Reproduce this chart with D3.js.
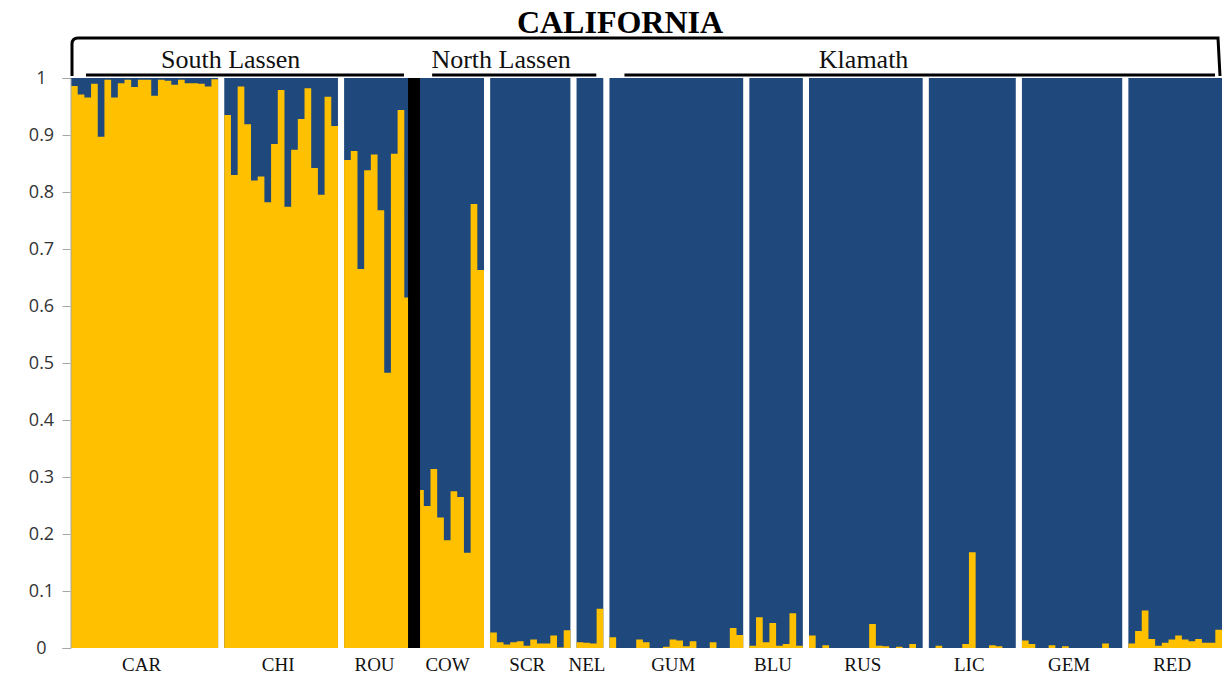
<!DOCTYPE html>
<html lang="en">
<head>
  <meta charset="UTF-8">
  <title>California - STRUCTURE plot</title>
  <script src="https://d3js.org/d3.v7.min.js"></script>
  <style>
    body { margin: 0; background: #fff; }
  </style>
</head>
<body>
  <svg width="1222" height="678"></svg>
  <script>
    // population names, in plot order
    const pops = ["CAR", "CHI", "ROU", "COW", "SCR", "NEL", "GUM", "BLU", "RUS", "LIC", "GEM", "RED"];

    // membership in the yellow cluster for each individual (blue = 1 - value)
    const CAR = [0.986, 0.971, 0.966, 0.99, 0.897, 0.997, 0.966, 0.991, 0.997, 0.984, 0.997,
                 0.997, 0.969, 0.997, 0.995, 0.988, 0.997, 0.991, 0.991, 0.99, 0.985, 0.998];
    const CHI = [0.935, 0.83, 0.985, 0.919, 0.82, 0.827, 0.782, 0.884, 0.979, 0.774, 0.874,
                 0.928, 0.982, 0.842, 0.795, 0.967, 0.916];
    const ROU = [0.856, 0.872, 0.665, 0.838, 0.866, 0.768, 0.483, 0.867, 0.944, 0.615];
    const COW = [0.277, 0.249, 0.314, 0.229, 0.189, 0.275, 0.265, 0.167, 0.779, 0.663];
    const SCR = [0.027, 0.01, 0.006, 0.01, 0.012, 0.004, 0.015, 0.008, 0.008, 0.022, 0.001, 0.031];
    const NEL = [0.01, 0.009, 0.008, 0.069];
    const GUM = [0.019, 0, 0, 0, 0.015, 0.01, 0, 0, 0.002, 0.015, 0.013, 0.003, 0.012, 0, 0,
                 0.01, 0, 0, 0.035, 0.023];
    const BLU = [0.004, 0.054, 0.01, 0.044, 0.004, 0.007, 0.061, 0.004];
    const RUS = [0.022, 0, 0.005, 0, 0, 0, 0, 0, 0, 0.042, 0.004, 0.003, 0, 0.002, 0, 0.007, 0];
    const LIC = [0, 0.004, 0, 0, 0, 0.007, 0.168, 0, 0, 0.005, 0.003, 0, 0];
    const GEM = [0.013, 0.007, 0, 0, 0.005, 0, 0.003, 0, 0, 0, 0, 0, 0.008, 0, 0];
    const RED = [0.008, 0.03, 0.066, 0.016, 0.004, 0.009, 0.015, 0.022, 0.015, 0.012, 0.016,
                 0.009, 0.009, 0.032];

    const popValues = { CAR, CHI, ROU, COW, SCR, NEL, GUM, BLU, RUS, LIC, GEM, RED };

    // regional groups drawn above the bars
    const groupNames = ["South Lassen", "North Lassen", "Klamath"];
    const groupFirst = ["CAR", "COW", "GUM"];
    const groupLast = ["ROU", "NEL", "RED"];

    const title = "CALIFORNIA";
    const yTicks = [0, 0.1, 0.2, 0.3, 0.4, 0.5, 0.6, 0.7, 0.8, 0.9, 1];

    const yellow = "#FFC000";
    const blue = "#1F497D";
    const GAP = 0.92; // white gap between populations, in individual widths
    const labelAt = [0.455, 0.42, 0.405]; // where each group name sits along its underline

    // lay out populations on a unit axis (one unit per individual)
    let pos = 0;
    const blocks = pops.map(p => {
      const b = { name: p, values: popValues[p], start: pos, n: popValues[p].length };
      pos += b.n + GAP;
      return b;
    });
    const totalUnits = pos - GAP;

    const x = d3.scaleLinear().domain([0, totalUnits]).range([71, 1222]);
    const y = d3.scaleLinear().domain([0, 1]).range([648, 78]);
    const bw = x(1) - x(0);

    const svg = d3.select("svg");

    // blue background for every population block
    svg.append("g")
      .selectAll("rect")
      .data(blocks)
      .join("rect")
      .attr("x", d => x(d.start))
      .attr("width", d => x(d.start + d.n) - x(d.start))
      .attr("y", y(1))
      .attr("height", y(0) - y(1))
      .attr("fill", blue);

    // yellow part of each population as one stepped area (no seams between bars)
    const step = d3.area()
      .x(d => x(d.u))
      .y0(y(0))
      .y1(d => y(d.v))
      .curve(d3.curveStepAfter);
    svg.append("g")
      .selectAll("path")
      .data(blocks)
      .join("path")
      .attr("d", b => {
        const pts = b.values.map((v, i) => ({ u: b.start + i, v }));
        pts.push({ u: b.start + b.n, v: b.values[b.n - 1] });
        return step(pts);
      })
      .attr("fill", yellow);

    // black separator between ROU and COW
    const cow = blocks.find(b => b.name === "COW");
    const sepX = x(cow.start - GAP / 2);
    svg.append("rect")
      .attr("x", sepX - 6)
      .attr("width", 12)
      .attr("y", y(1))
      .attr("height", y(0) - y(1))
      .attr("fill", "#000");

    // y axis
    const yAxis = d3.axisLeft(y)
      .tickValues(yTicks)
      .tickSize(8)
      .tickFormat(d => String(+d.toFixed(1)));
    const ga = svg.append("g")
      .attr("transform", "translate(70.5,0)")
      .call(yAxis);
    ga.select(".domain").attr("stroke", "#a6a6a6").attr("stroke-width", 1);
    ga.selectAll(".tick line").attr("stroke", "#a6a6a6");
    ga.selectAll(".tick text")
      .attr("x", -29)
      .attr("text-anchor", "middle")
      .attr("fill", "#333")
      .style("font-family", "'Open Sans', 'Liberation Sans', sans-serif")
      .style("font-size", "18px");

    // population labels
    svg.append("g")
      .selectAll("text")
      .data(blocks)
      .join("text")
      .attr("x", d => x(d.start + d.n / 2) - 3)
      .attr("y", 671)
      .attr("text-anchor", "middle")
      .style("font-family", "'Liberation Serif', 'Times New Roman', serif")
      .style("font-size", "19px")
      .attr("fill", "#111")
      .text(d => d.name);

    // group underlines + labels
    const groups = groupNames.map((g, i) => {
      const a = blocks.find(b => b.name === groupFirst[i]);
      const z = blocks.find(b => b.name === groupLast[i]);
      return { name: g, x1: x(a.start) + 15, x2: x(z.start + z.n) - 7, at: labelAt[i] };
    });
    svg.append("g")
      .selectAll("line")
      .data(groups)
      .join("line")
      .attr("x1", d => d.x1)
      .attr("x2", d => d.x2)
      .attr("y1", 75)
      .attr("y2", 75)
      .attr("stroke", "#000")
      .attr("stroke-width", 3);
    svg.append("g")
      .selectAll("text")
      .data(groups)
      .join("text")
      .attr("x", d => d.x1 + (d.x2 - d.x1) * d.at)
      .attr("y", 68)
      .attr("text-anchor", "middle")
      .style("font-family", "'Liberation Serif', 'Times New Roman', serif")
      .style("font-size", "26px")
      .attr("fill", "#111")
      .text(d => d.name);

    // bracket round the whole state
    const bx1 = x(0) + 1, bx2 = x(totalUnits) - 4;
    svg.append("path")
      .attr("d", `M${bx1},76 L${bx1},44 Q${bx1},38 ${bx1 + 6},38 L${bx2},38 L${bx2 + 2},76`)
      .attr("fill", "none")
      .attr("stroke", "#000")
      .attr("stroke-width", 3);

    svg.append("text")
      .attr("x", 620)
      .attr("y", 33)
      .attr("text-anchor", "middle")
      .style("font-family", "'Liberation Serif', 'Times New Roman', serif")
      .style("font-size", "32px")
      .style("font-weight", "bold")
      .attr("fill", "#000")
      .text(title);
  </script>
</body>
</html>
